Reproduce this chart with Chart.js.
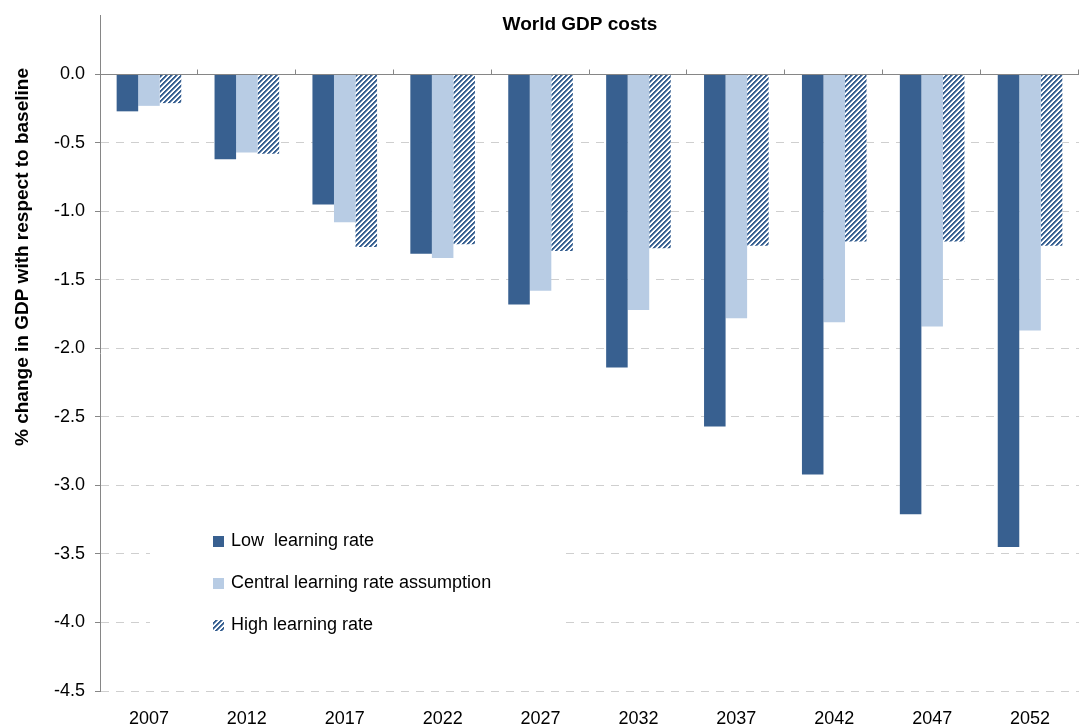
<!DOCTYPE html>
<html>
<head>
<meta charset="utf-8">
<script src="https://cdn.jsdelivr.net/npm/chart.js@4.4.1/dist/chart.umd.min.js"></script>
<style>
  html, body { margin: 0; padding: 0; background: #fff; }
  #wrap { width: 1079px; height: 727px; }
</style>
</head>
<body>
<div id="wrap"><canvas id="gdp" width="1079" height="727"></canvas></div>
<script>
const years = ["2007", "2012", "2017", "2022", "2027", "2032", "2037", "2042", "2047", "2052"];
const lowRate = [-0.27, -0.62, -0.95, -1.31, -1.68, -2.14, -2.57, -2.92, -3.21, -3.45];
const centralRate = [-0.23, -0.57, -1.08, -1.34, -1.58, -1.72, -1.78, -1.81, -1.84, -1.87];
const highRate = [-0.21, -0.58, -1.26, -1.24, -1.29, -1.27, -1.25, -1.22, -1.22, -1.25];
const seriesNames = ["Low  learning rate", "Central learning rate assumption", "High learning rate"];
const chartTitle = "World GDP costs";
const yTitle = "% change in GDP with respect to baseline";

const FONT = '"Liberation Sans", Arial, sans-serif';
const DARK = "#386090";
const LIGHT = "#b8cce4";

// diagonal stripes for the high learning rate bars
function makeHatch() {
  const n = 5;
  const c = document.createElement("canvas");
  c.width = n; c.height = n;
  const g = c.getContext("2d");
  const img = g.createImageData(n, n);
  for (let y = 0; y < n; y++) {
    for (let x = 0; x < n; x++) {
      const k = (x + y) % n;
      let col = [255, 255, 255];
      if (k === 0 || k === 1) col = [56, 96, 144];
      else if (k === 2) col = [130, 158, 192];
      const i = (y * n + x) * 4;
      img.data[i] = col[0]; img.data[i + 1] = col[1]; img.data[i + 2] = col[2]; img.data[i + 3] = 255;
    }
  }
  g.putImageData(img, 0, 0);
  return document.getElementById("gdp").getContext("2d").createPattern(c, "repeat");
}
const hatch = makeHatch();

const decorations = {
  id: "decorations",
  afterDatasetsDraw(chart) {
    const { ctx, chartArea, scales } = chart;
    const y0 = Math.round(scales.y.getPixelForValue(0)) + 0.5;
    ctx.save();
    ctx.strokeStyle = "#868686";
    ctx.lineWidth = 1;
    ctx.beginPath();
    ctx.moveTo(chartArea.left, y0);
    ctx.lineTo(chartArea.right, y0);
    const n = years.length;
    const step = scales.x.getPixelForValue(1) - scales.x.getPixelForValue(0);
    for (let i = 1; i <= n; i++) {
      const x = Math.round(scales.x.getPixelForValue(i - 1) + step / 2) - 0.5;
      ctx.moveTo(x, y0);
      ctx.lineTo(x, y0 - 5);
    }
    ctx.stroke();
    ctx.restore();
  },
  afterDraw(chart) {
    const { ctx } = chart;
    ctx.save();
    // title
    ctx.fillStyle = "#000";
    ctx.font = "bold 19px " + FONT;
    ctx.textAlign = "center";
    ctx.textBaseline = "middle";
    ctx.fillText(chartTitle, 580, 25);
    // y axis title
    ctx.save();
    ctx.translate(23, 257);
    ctx.rotate(-Math.PI / 2);
    ctx.fillText(yTitle, 0, 0);
    ctx.restore();
    // legend
    ctx.fillStyle = "#fff";
    ctx.fillRect(150, 505, 412, 140);
    const fills = [DARK, LIGHT, hatch];
    const rows = [541.5, 583.5, 625];
    ctx.font = "18px " + FONT;
    ctx.textAlign = "left";
    seriesNames.forEach((name, i) => {
      ctx.fillStyle = fills[i];
      ctx.fillRect(213, Math.round(rows[i] - 5.5), 11, 11);
      ctx.fillStyle = "#000";
      ctx.fillText(name, 231, rows[i]);
    });
    ctx.restore();
  }
};

new Chart(document.getElementById("gdp"), {
  type: "bar",
  data: {
    labels: years,
    datasets: [
      { label: seriesNames[0], data: lowRate, backgroundColor: DARK },
      { label: seriesNames[1], data: centralRate, backgroundColor: LIGHT },
      { label: seriesNames[2], data: highRate, backgroundColor: hatch }
    ]
  },
  options: {
    responsive: false,
    devicePixelRatio: 1,
    animation: false,
    layout: { padding: { top: 15, left: 0, right: 0, bottom: 0 } },
    datasets: { bar: { categoryPercentage: 0.66, barPercentage: 1.0, borderWidth: 0 } },
    plugins: { legend: { display: false }, tooltip: { enabled: false }, title: { display: false } },
    scales: {
      x: {
        afterFit(scale) { scale.height = 36; scale.paddingLeft = 0; scale.paddingRight = 0; },
        grid: { display: false, drawTicks: false },
        border: { display: false },
        ticks: { color: "#000", font: { family: FONT, size: 18 }, padding: 17, maxRotation: 0 }
      },
      y: {
        min: -4.5,
        max: 0.433,
        afterFit(scale) { scale.width = 100; scale.paddingTop = 0; scale.paddingBottom = 0; },
        ticks: {
          stepSize: 0.5,
          includeBounds: false,
          color: "#000",
          font: { family: FONT, size: 18 },
          padding: 10,
          callback: v => Number(v).toFixed(1)
        },
        grid: {
          color: c => (c.tick && c.tick.value === 0) ? "rgba(0,0,0,0)" : "#cfcfcf",
          tickColor: "#868686",
          tickLength: 5,
          lineWidth: 1
        },
        border: { display: true, color: "#868686", dash: [8, 7] }
      }
    }
  },
  plugins: [decorations]
});
</script>
</body>
</html>
